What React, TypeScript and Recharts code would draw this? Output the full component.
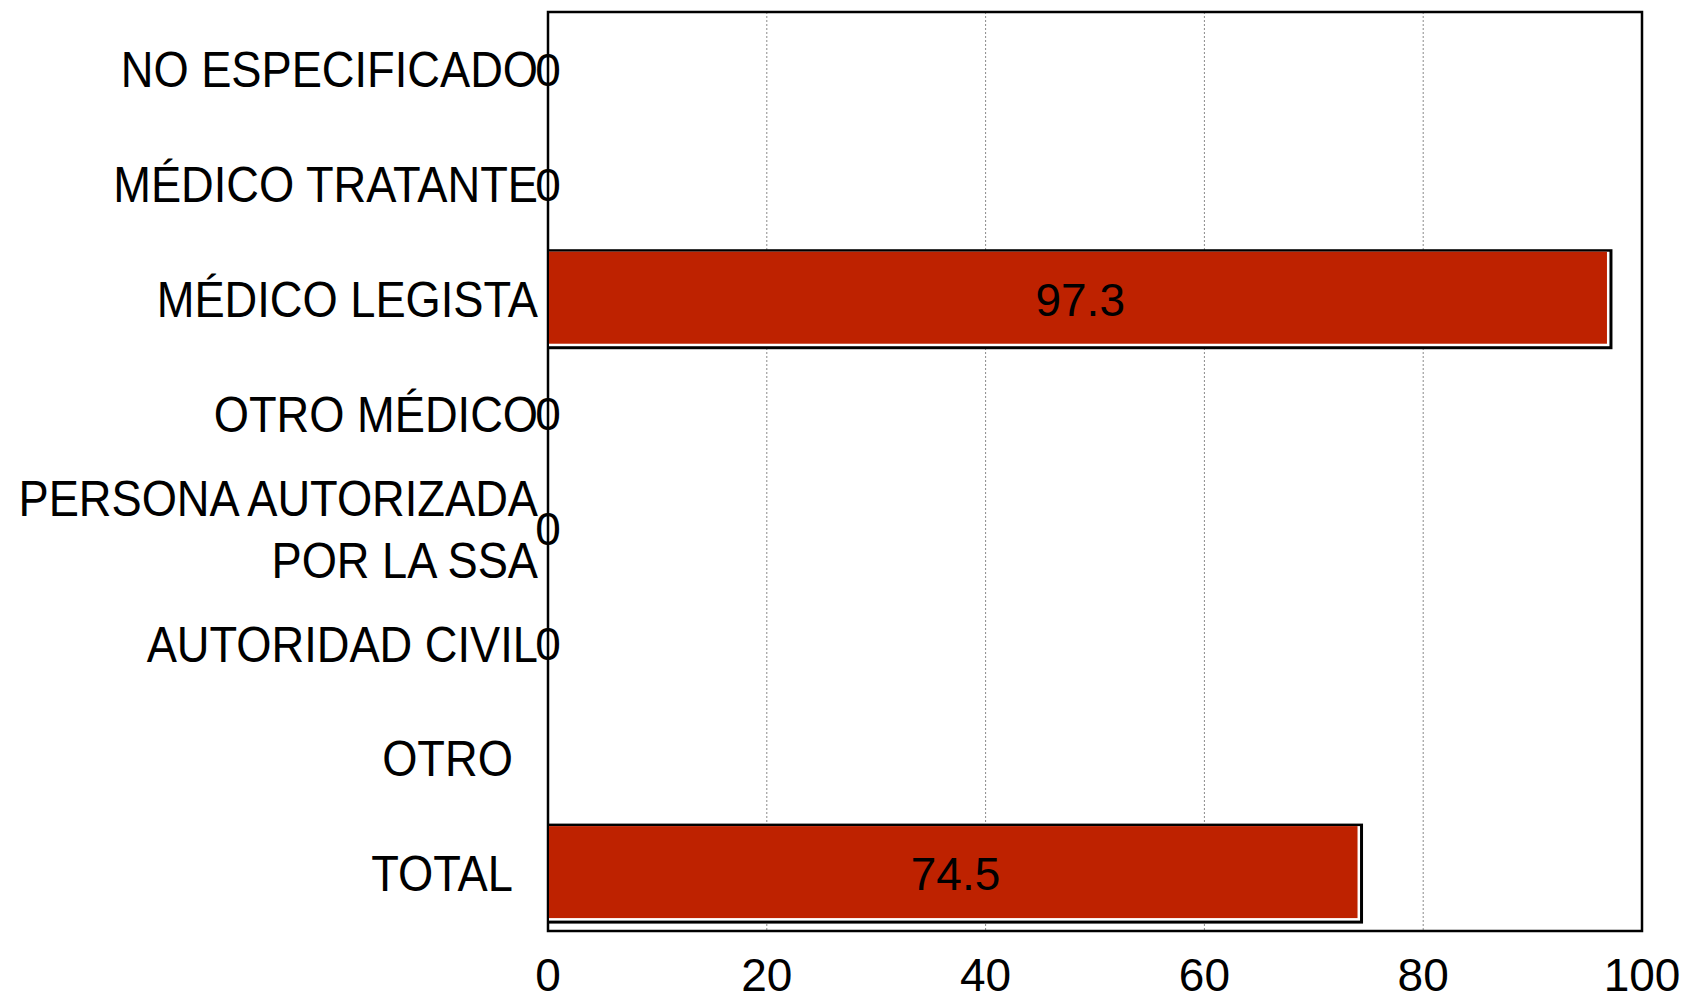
import { Bar, BarChart, CartesianGrid, LabelList, ReferenceArea, XAxis, YAxis } from "recharts";

const FONT = "'Liberation Sans', Arial, sans-serif";
const RED = "#BE2200";

// trailing nbsp keep OTRO / TOTAL pulled left like the original
const categories = [
  "NO ESPECIFICADO",
  "MÉDICO TRATANTE",
  "MÉDICO LEGISTA",
  "OTRO MÉDICO",
  "PERSONA AUTORIZADA\nPOR LA SSA",
  "AUTORIDAD CIVIL",
  "OTRO\u00a0\u00a0",
  "TOTAL\u00a0\u00a0",
];
const percentages: (number | null)[] = [0, 0, 97.3, 0, 0, 0, null, 74.5];
const xTicks = [0, 20, 40, 60, 80, 100];

const data = categories.map((name, i) => ({ name, value: percentages[i] }));

// labels in the original are horizontally squeezed
function CategoryTick({ x, y, payload }: any) {
  const lines = String(payload.value).split("\n");
  const lh = 62;
  const start = -((lines.length - 1) * lh) / 2;
  return (
    <g transform={`translate(${x},${y}) scale(0.905,1)`}>
      <text x={0} y={start} textAnchor="end" fontSize={50} fill="#000" fontFamily={FONT}>
        {lines.map((l, i) => (
          <tspan key={i} x={0} y={start + i * lh} dy="0.355em">
            {l}
          </tspan>
        ))}
      </text>
    </g>
  );
}

function ShadowBar({ x, y, width, height }: any) {
  if (!width || width <= 0) return null;
  return (
    <g>
      <rect x={x} y={y} width={width} height={height} fill="#000" />
      <rect x={x} y={y + 2.5} width={width - 3} height={height - 5.5} fill="#fff" />
      <rect x={x} y={y + 2.5} width={width - 5.5} height={height - 8} fill={RED} />
    </g>
  );
}

function ValueLabel({ x, y, width, height, value }: any) {
  if (value === null || value === undefined) return null;
  return (
    <text
      x={x + width / 2}
      y={y + height / 2}
      dy="0.355em"
      textAnchor="middle"
      fontSize={46}
      fill="#000"
      fontFamily={FONT}
    >
      {value}
    </text>
  );
}

export default function App() {
  return (
    <div style={{ position: "absolute", left: 0, top: 0, width: 1686, height: 994, background: "#fff" }}>
      <BarChart
        width={1686}
        height={994}
        data={data}
        layout="vertical"
        barCategoryGap="6.5%"
        margin={{ top: 12, right: 44, bottom: 0, left: 0 }}
      >
        <CartesianGrid horizontal={false} stroke="#8a8a8a" strokeDasharray="2 2" />
        <XAxis
          type="number"
          domain={[0, 100]}
          ticks={xTicks}
          height={63}
          tickLine={false}
          tickSize={0}
          tickMargin={27}
          axisLine={{ stroke: "#000", strokeWidth: 2 }}
          tick={{ fontSize: 46, fill: "#000", fontFamily: FONT }}
        />
        <YAxis
          type="category"
          dataKey="name"
          width={548}
          tickLine={false}
          tickSize={0}
          tickMargin={10}
          axisLine={{ stroke: "#000", strokeWidth: 2 }}
          tick={<CategoryTick />}
          interval={0}
        />
        <Bar dataKey="value" shape={<ShadowBar />} isAnimationActive={false}>
          <LabelList dataKey="value" content={<ValueLabel />} />
        </Bar>
        <ReferenceArea x1={0} x2={100} fill="none" stroke="#000" strokeWidth={2.5} ifOverflow="visible" />
      </BarChart>
    </div>
  );
}
